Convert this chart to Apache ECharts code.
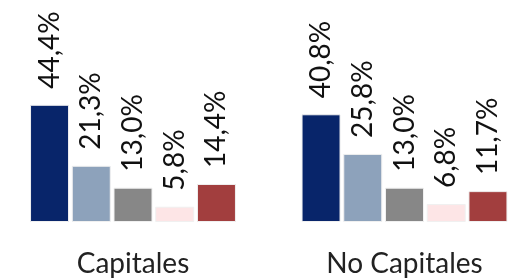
<!DOCTYPE html>
<html>
<head>
<meta charset="utf-8">
<script src="https://cdn.jsdelivr.net/npm/echarts@6/dist/echarts.min.js"></script>
<style>
html,body{margin:0;padding:0;background:#fff;}
#c{width:511px;height:279px;}
</style>
</head>
<body>
<div id="c"></div>
<script>
var categories = ['Capitales', 'No Capitales'];
var seriesNames = ['Serie 1', 'Serie 2', 'Serie 3', 'Serie 4', 'Serie 5'];
var serie1 = [44.4, 40.8];
var serie2 = [21.3, 25.8];
var serie3 = [13.0, 13.0];
var serie4 = [5.8, 6.8];
var serie5 = [14.4, 11.7];
var colors = ['#08256A', '#8DA2BB', '#878787', '#FDE5E6', '#A23E3E'];

var allData = [serie1, serie2, serie3, serie4, serie5];
var chart = echarts.init(document.getElementById('c'), null, {renderer: 'canvas'});
var series = allData.map(function (d, i) {
  return {
    name: seriesNames[i],
    type: 'bar',
    data: d,
    barWidth: 39,
    barGap: '7%',
    itemStyle: {color: colors[i], borderColor: '#f0f0f0', borderWidth: 1},
    label: {
      show: true,
      position: 'top',
      rotate: 90,
      align: 'left',
      verticalAlign: 'middle',
      distance: 16,
      fontFamily: 'Lato',
      fontSize: 28,
      color: '#111',
      formatter: function (p) { return p.value.toFixed(1).replace('.', ',') + '%'; }
    }
  };
});
chart.setOption({
  animation: false,
  backgroundColor: '#fff',
  grid: {left: -2.75, width: 543, top: 90, height: 132, containLabel: false, outerBoundsMode: 'none'},
  xAxis: {
    type: 'category',
    data: categories,
    axisLine: {show: false},
    axisTick: {show: false},
    axisLabel: {fontFamily: 'Lato', fontSize: 28, color: '#222', margin: 28}
  },
  yAxis: {type: 'value', min: 0, max: 50, show: false, splitLine: {show: false}},
  series: series
});
</script>
</body>
</html>
